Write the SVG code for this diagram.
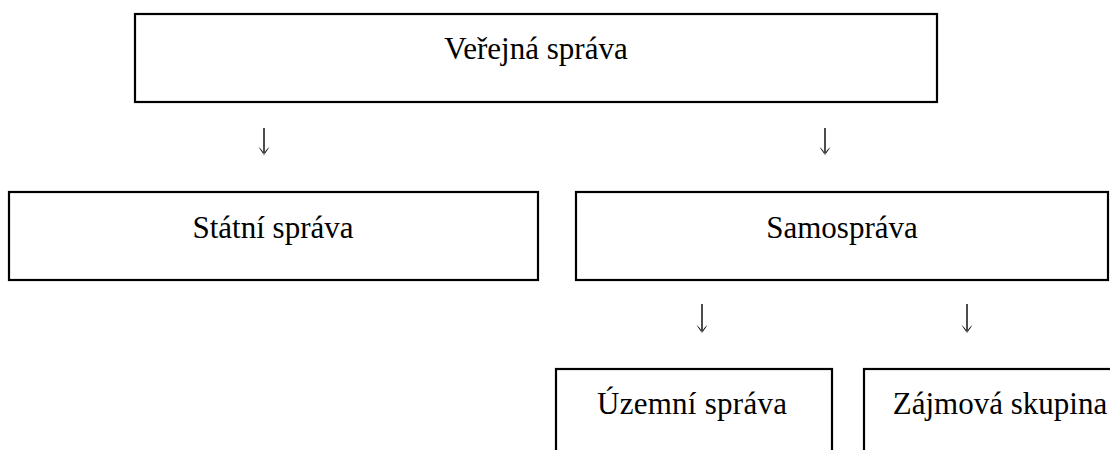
<svg xmlns="http://www.w3.org/2000/svg" width="1110" height="450" viewBox="0 0 1110 450">
<style>
.box{fill:#fff;stroke:#000;stroke-width:2.2}
.lbl{font-family:"Liberation Serif","Times New Roman",serif;font-size:31px;fill:#000;text-anchor:middle}
.conn{stroke:#000;stroke-width:1.4;fill:none}
.head{fill:#000;stroke:none}
</style>
<defs>
<path id="ah" class="head" d="M-5.5,-8 Q0,-4 0,1 Q0,-4 5.5,-8 L0,0 Z"/>
</defs>
<rect width="1110" height="450" fill="#fff"/>
<g id="verejna-sprava">
<rect class="box" x="135" y="14" width="802" height="88"/>
<text class="lbl" x="536" y="59">Veřejná správa</text>
</g>
<g id="statni-sprava">
<rect class="box" x="9" y="192" width="529" height="88"/>
<text class="lbl" x="273" y="238">Státní správa</text>
</g>
<g id="samosprava">
<rect class="box" x="576" y="192" width="532" height="88"/>
<text class="lbl" x="842" y="238">Samospráva</text>
</g>
<g id="uzemni-sprava">
<rect class="box" x="556" y="369" width="276" height="110"/>
<text class="lbl" x="692" y="414" textLength="190">Územní správa</text>
</g>
<g id="zajmova-skupina">
<rect class="box" x="864" y="369" width="280" height="110"/>
<text class="lbl" x="1000" y="414">Zájmová skupina</text>
</g>
<g id="connectors">
<line class="conn" x1="264" y1="128" x2="264" y2="153"/>
<use href="#ah" x="264" y="155"/>
<line class="conn" x1="825" y1="128" x2="825" y2="153"/>
<use href="#ah" x="825" y="155"/>
<line class="conn" x1="702" y1="304" x2="702" y2="331"/>
<use href="#ah" x="702" y="333"/>
<line class="conn" x1="967" y1="304" x2="967" y2="331"/>
<use href="#ah" x="967" y="333"/>
</g>
</svg>
